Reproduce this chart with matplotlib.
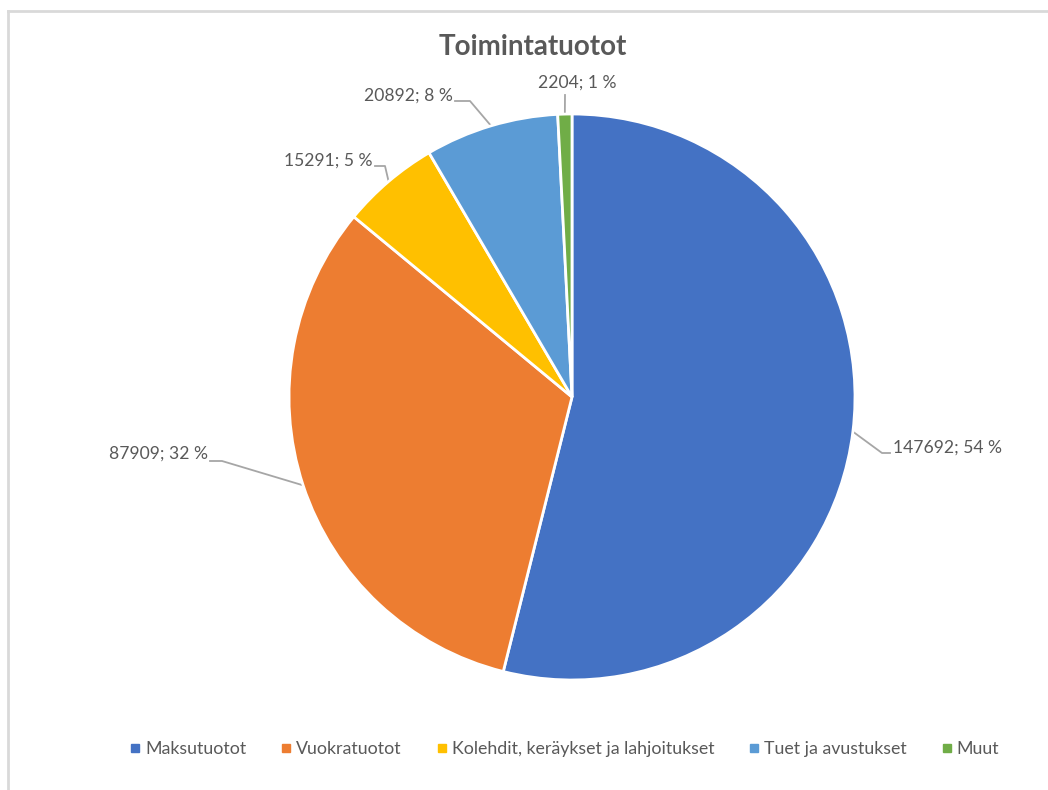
import numpy as np
import matplotlib
matplotlib.use('Agg')
import matplotlib.pyplot as plt
from matplotlib.lines import Line2D

# Data
categories = ['Maksutuotot', 'Vuokratuotot', 'Kolehdit, keräykset ja lahjoitukset',
              'Tuet ja avustukset', 'Muut']
values = [147692, 87909, 15291, 20892, 2204]
percent_labels = ['54 %', '32 %', '5 %', '8 %', '1 %']
colors = ['#4472C4', '#ED7D31', '#FFC000', '#5B9BD5', '#70AD47']

plt.rcParams['font.family'] = ['Lato', 'DejaVu Sans']
text_color = '#595959'

W, H = 1048, 790
fig = plt.figure(figsize=(W / 100, H / 100), dpi=100)

# pie centre and radius in pixels
cx, cy, r = 572, 397, 283
ax = fig.add_axes([(cx - r) / W, (H - cy - r) / H, 2 * r / W, 2 * r / H])
wedges, _ = ax.pie(values, colors=colors, startangle=90, counterclock=False,
                   radius=1, wedgeprops=dict(edgecolor='white', linewidth=2))
ax.set_xlim(-1, 1)
ax.set_ylim(-1, 1)
ax.set_aspect('equal')
ax.axis('off')


def px(x, y):
    # pixel -> data coordinates of the pie axes
    return (x - cx) / r, (cy - y) / r


# elbow point, end of line, text anchor (pixels), alignment
label_pos = [
    ((882, 453), (890, 453), (893, 448), 'left'),
    ((222, 461), (210, 461), (208, 454), 'right'),
    ((385, 166), (375, 166), (373, 161), 'right'),
    ((470, 101), (455, 101), (453, 96), 'right'),
    ((565, 95), (565, 95), (577, 83), 'center'),
]

for w, v, p, (elb, end, txt, ha) in zip(wedges, values, percent_labels, label_pos):
    ang = np.deg2rad((w.theta1 + w.theta2) / 2)
    x0, y0 = np.cos(ang), np.sin(ang)
    ex, ey = px(*elb)
    nx, ny = px(*end)
    ax.plot([x0, ex, nx], [y0, ey, ny], color='#a6a6a6', lw=1.3,
            clip_on=False, zorder=0)
    tx, ty = px(*txt)
    ax.text(tx, ty, f'{v}; {p}', ha=ha, va='center', fontsize=12.6,
            color=text_color, clip_on=False)

fig.text(533 / W, 1 - 47 / H, 'Toimintatuotot', ha='center', va='center',
         fontsize=20, fontweight='bold', color=text_color)

handles = [Line2D([], [], marker='s', linestyle='none', markersize=6,
                  markerfacecolor=c, markeredgecolor=c) for c in colors]
fig.legend(handles, categories, loc='center', bbox_to_anchor=(565 / W, 1 - 749 / H),
           ncol=5, frameon=False, fontsize=12.8, labelcolor=text_color,
           handlelength=0.5, handletextpad=0.3, columnspacing=2.0)

# chart frame (only top and left visible in the crop)
fig.add_artist(Line2D([8 / W, 8 / W], [0, 1 - 11 / H], transform=fig.transFigure,
                      color='#d9d9d9', lw=2))
fig.add_artist(Line2D([8 / W, 1], [1 - 11 / H, 1 - 11 / H], transform=fig.transFigure,
                      color='#d9d9d9', lw=2))

fig.savefig('out.png', dpi=100, facecolor='white')
